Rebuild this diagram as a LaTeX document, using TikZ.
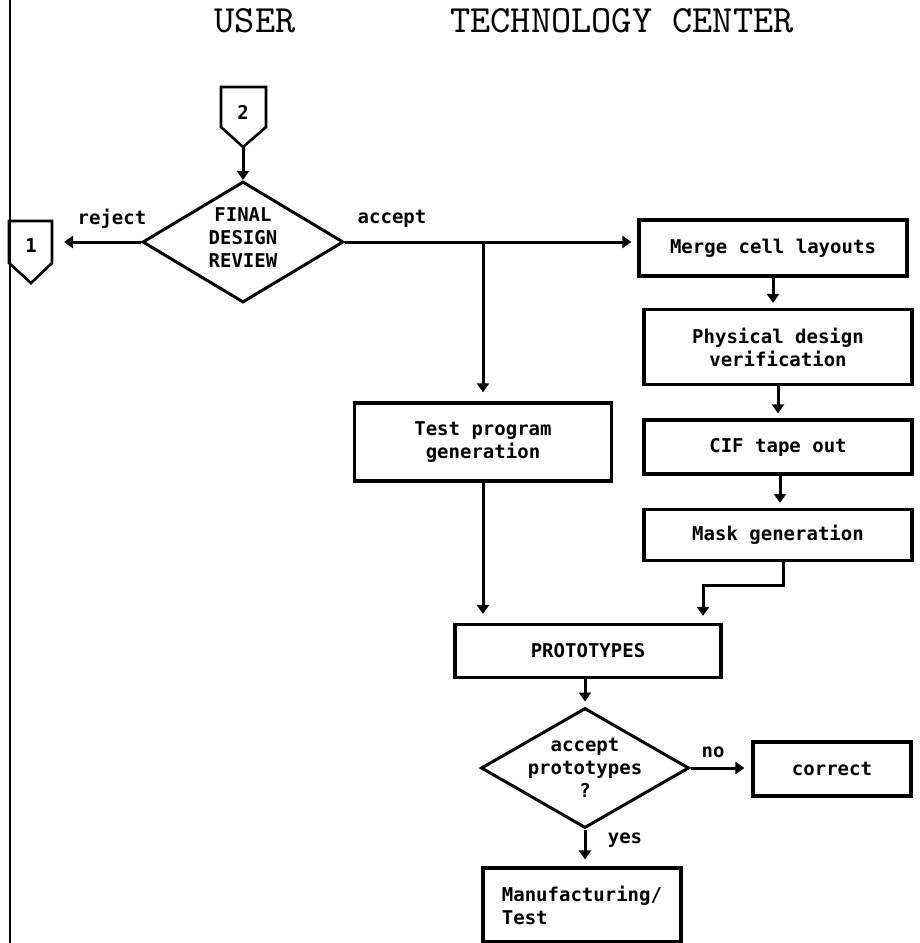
\documentclass[tikz,border=0pt]{standalone}
\usepackage{fontspec}
\setmonofont{DejaVu Sans Mono}
\newfontfamily\titlefont{lmmono10-regular.otf}
\usetikzlibrary{arrows.meta,shapes.geometric}
\begin{document}
\begin{tikzpicture}[x=1pt,y=-1pt,
  every node/.style={font=\ttfamily\bfseries\fontsize{19}{23}\selectfont, inner sep=0pt},
  title/.style={font=\titlefont\fontsize{38.5}{38.5}\selectfont},
  box/.style={draw, line width=3.2pt, align=center},
  decision/.style={draw, diamond, line width=3pt},
  conn/.style={draw, line width=2.6pt, line join=miter},
  ttext/.style={align=center},
  arr/.style={line width=3pt, -{Triangle[width=12pt,length=9pt]}},
  lab/.style={}]
  \useasboundingbox (0,0) rectangle (919,943);

  % lane divider
  \draw[line width=2pt] (10,0) -- (10,943);

  % lane headings
  \node[title] (huser) at (255,21) {USER};
  \node[title] (htech) at (622,21) {TECHNOLOGY CENTER};

  % off-page connectors
  \node (c2) at (243,112) {2};
  \draw[conn] (221,87) -- (266,87) -- (266,127) -- (243,147) -- (221,127) -- cycle;
  \coordinate (c2tip) at (243,147);
  \node (c1) at (31,246) {1};
  \draw[conn] (9,221) -- (52,221) -- (52,263) -- (31,283) -- (9,263) -- cycle;
  \coordinate (rej) at (64,242);

  % decisions
  \node[decision, minimum width=201pt, minimum height=121pt] (fdr) at (243,242) {};
  \node[ttext] (fdrt) at (243,238) {FINAL\\DESIGN\\REVIEW};
  \node[decision, minimum width=208pt, minimum height=120pt] (apr) at (585,768) {};
  \node[ttext] (aprt) at (585,768) {accept\\prototypes\\?};

  % process boxes
  \node[box, minimum width=268pt, minimum height=56pt] (merge) at (773,248) {Merge cell layouts};
  \node[box, minimum width=268pt, minimum height=75pt] (phys) at (778,347) {Physical design\\verification};
  \node[box, minimum width=268pt, minimum height=54pt] (cif) at (778,447) {CIF tape out};
  \node[box, minimum width=268pt, minimum height=51pt] (mask) at (778,535) {Mask generation};
  \node[box, minimum width=257pt, minimum height=78pt] (test) at (483,442) {Test program\\generation};
  \node[box, minimum width=266pt, minimum height=53pt] (proto) at (588,651) {PROTOTYPES};
  \node[box, minimum width=158pt, minimum height=54pt] (corr) at (832,769) {correct};
  \node[box, minimum width=198pt, minimum height=74pt, align=left] (mfg) at (582,905) {Manufacturing/\\Test};

  % connectors
  \draw[arr] (c2tip) -- (fdr.north);
  \draw[arr] (fdr.west) -- (rej);
  \node[lab] (lrej) at (112,219) {reject};
  \draw[arr, shorten >=6pt] (fdr.east) -- (fdr.east -| merge.west);
  \node[lab] (lacc) at (392,219) {accept};
  \coordinate (br) at (483,242);
  \draw[arr, shorten >=9pt] (br) -- (test.north);
  \draw[arr, shorten >=5pt] (merge.south) -- (merge.south |- phys.north);
  \draw[arr, shorten >=5pt] (phys.south) -- (cif.north);
  \draw[arr, shorten >=5pt] ([xshift=2pt]cif.south) -- ([xshift=2pt]mask.north);
  \coordinate (mk) at (703,585);
  \draw[arr, shorten >=7pt] ([xshift=5pt]mask.south) |- (mk) -- (mk |- proto.north);
  \draw[arr, shorten >=9pt] (test.south) -- (test.south |- proto.north);
  \draw[arr, shorten >=5pt] (proto.south -| apr.north) -- (apr.north);
  \draw[arr, shorten >=7pt] (apr.east) -- (apr.east -| corr.west);
  \node[lab] (lno) at (713,752) {no};
  \draw[arr, shorten >=7pt] (apr.south) -- (apr.south |- mfg.north);
  \node[lab] (lyes) at (625,840) {yes};
\end{tikzpicture}
\end{document}
